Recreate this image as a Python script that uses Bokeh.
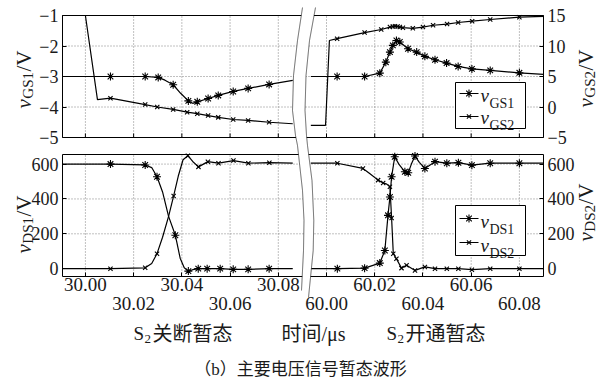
import math
from bokeh.plotting import figure
from bokeh.models import (Range1d, LinearAxis, FixedTicker, CustomJSTickFormatter,
                          Label, PolyAnnotation)
from bokeh.embed import file_html
from bokeh.resources import INLINE

# ------------------------------------------------------------------ data
x_ticks_off = [30.00, 30.02, 30.04, 30.06, 30.08]      # S2 turn-off window (us)
x_ticks_on = [60.00, 60.02, 60.04, 60.06, 60.08]       # S2 turn-on window (us)
gs1_ticks = [-5, -4, -3, -2, -1]
gs2_ticks = [-5, 0, 5, 10, 15]
ds_ticks = [0, 200, 400, 600]

# --- gate voltages, S2 turn-off
t_gs1_off = [29.9905, 30.0104, 30.0248, 30.0302, 30.0330, 30.0364, 30.0395, 30.0427, 30.0445,
             30.0464, 30.0509, 30.0551, 30.0613, 30.0675, 30.0762, 30.0860]
v_gs1_off = [-3.00, -3.00, -3.00, -3.03, -3.12, -3.27, -3.55, -3.80, -3.88,
             -3.83, -3.72, -3.62, -3.49, -3.39, -3.26, -3.13]
m_gs1_off = [0, 1, 1, 1, 0, 1, 0, 1, 0, 1, 1, 1, 1, 1, 1, 0]

t_gs2_off = [29.9905, 30.0000, 30.0050, 30.0104, 30.0248, 30.0298, 30.0364, 30.0422, 30.0464,
             30.0509, 30.0551, 30.0613, 30.0675, 30.0762, 30.0860]
v_gs2_off = [15.0, 15.0, 1.2, 1.45, 0.4, 0.0, -0.4, -0.85, -1.1,
             -1.4, -1.7, -2.05, -2.2, -2.5, -2.75]
m_gs2_off = [0, 0, 0, 1, 1, 1, 1, 1, 1, 1, 1, 1, 1, 1, 0]

# --- gate voltages, S2 turn-on
t_gs1_on = [59.9935, 60.0044, 60.0158, 60.0221, 60.0246, 60.0263, 60.0275, 60.0290, 60.0304,
            60.0338, 60.0374, 60.0408, 60.0450, 60.0498, 60.0546, 60.0603, 60.0679, 60.0800, 60.0900]
v_gs1_on = [-3.00, -3.00, -3.00, -2.89, -2.53, -2.20, -1.98, -1.82, -1.87,
            -2.09, -2.20, -2.34, -2.45, -2.56, -2.67, -2.75, -2.80, -2.88, -2.93]
m_gs1_on = [0, 1, 1, 1, 1, 1, 1, 1, 1, 1, 1, 1, 1, 1, 1, 1, 1, 1, 0]

t_gs2_on = [59.9935, 59.9996, 60.0012, 60.0044, 60.0158, 60.0227, 60.0263, 60.0275, 60.0284,
            60.0295, 60.0304, 60.0317, 60.0358, 60.0400, 60.0442, 60.0500, 60.0546, 60.0604,
            60.0679, 60.0800, 60.0900]
v_gs2_on = [-3.0, -3.0, 10.9, 11.2, 12.2, 12.7, 13.1, 13.2, 13.25,
            13.2, 13.1, 13.0, 12.9, 13.1, 13.4, 13.6, 13.85, 14.07,
            14.34, 14.73, 14.85]
m_gs2_on = [0, 0, 0, 1, 1, 1, 1, 1, 1, 1, 1, 1, 1, 1, 1, 1, 1, 1, 1, 1, 0]

# --- drain-source voltages, S2 turn-off
t_ds1_off = [29.9905, 30.0104, 30.0248, 30.0275, 30.0297, 30.0320, 30.0345, 30.0373, 30.0393,
             30.0410, 30.0427, 30.0445, 30.0468, 30.0505, 30.0559, 30.0613, 30.0675, 30.0762, 30.0860]
v_ds1_off = [600, 600, 595, 580, 527, 440, 300, 192, 60,
             5, -14, -6, 0, 0, 0, -4, -4, 0, 0]
m_ds1_off = [0, 1, 1, 0, 1, 0, 0, 1, 0, 0, 1, 0, 1, 1, 1, 1, 1, 1, 0]

t_ds2_off = [29.9905, 30.0104, 30.0248, 30.0275, 30.0297, 30.0320, 30.0345, 30.0366, 30.0385,
             30.0405, 30.0425, 30.0445, 30.0469, 30.0508, 30.0552, 30.0614, 30.0676, 30.0763, 30.0860]
v_ds2_off = [0, 0, 5, 30, 86, 180, 300, 417, 530,
             625, 648, 615, 584, 614, 605, 620, 605, 608, 605]
m_ds2_off = [0, 1, 1, 0, 1, 0, 0, 1, 0, 0, 1, 0, 1, 1, 1, 1, 1, 1, 0]

# --- drain-source voltages, S2 turn-on
t_ds1_on = [59.9935, 60.0045, 60.0158, 60.0221, 60.0242, 60.0255, 60.0263, 60.0270, 60.0283,
            60.0300, 60.0325, 60.0339, 60.0352, 60.0367, 60.0385, 60.0408, 60.0450, 60.0499,
            60.0547, 60.0603, 60.0679, 60.0800, 60.0900]
v_ds1_on = [0, 0, 3, 32, 104, 306, 411, 527, 642,
            600, 556, 550, 600, 646, 610, 575, 614, 605,
            608, 594, 605, 605, 605]
m_ds1_on = [0, 1, 1, 1, 1, 1, 1, 1, 1, 0, 1, 1, 0, 1, 0, 1, 1, 1, 1, 1, 1, 1, 0]

t_ds2_on = [59.9935, 60.0045, 60.0151, 60.0179, 60.0214, 60.0235, 60.0250, 60.0263, 60.0270,
            60.0277, 60.0290, 60.0311, 60.0332, 60.0367, 60.0408, 60.0450, 60.0499, 60.0547,
            60.0603, 60.0679, 60.0800, 60.0900]
v_ds2_on = [605, 605, 575, 546, 508, 492, 485, 470, 290,
            86, 57, 3, 19, -10, 10, 0, 0, 0,
            -6, 0, 0, 0]
m_ds2_on = [0, 1, 1, 0, 1, 1, 0, 1, 1, 1, 1, 1, 1, 1, 1, 1, 1, 1, 1, 1, 1, 0]

# ------------------------------------------------------------------ layout constants (page px)
W, H = 600, 392
STEP = x_ticks_off[1] - x_ticks_off[0]
OFFSET = x_ticks_on[0] - (x_ticks_off[-1] + STEP)   # puts 60.00 one step after 30.08
X0, XSPAN = 29.9905, 0.1995                         # time shown across the panel width
FR_L, FR_R = 62, 543
TOP_T, TOP_B = 15, 137
BOT_T, BOT_B = 154, 276
TOP_Y = (-5, -1)
TOP_Y2 = (-5, 15)
BOT_Y = (-45, 655)
TICK = 4

SERIF = "Liberation Serif"
MIXED = "Liberation Serif, Noto Sans CJK SC"
INK = "#1a1a1a"

kx = XSPAN / (FR_R - FR_L)


def span_range(lo, hi, p_top, p_bot):
    """range whose values lo..hi map to page rows p_bot..p_top across the whole canvas"""
    k = (hi - lo) / (p_bot - p_top)
    return Range1d(lo - (H - p_bot) * k, hi + p_top * k)


p = figure(width=W, height=H, x_range=Range1d(0, W), y_range=Range1d(H, 0),
           x_axis_type=None, y_axis_type=None, toolbar_location=None, output_backend="svg",
           min_border=0, min_border_left=0, min_border_right=0, min_border_top=0,
           min_border_bottom=0)
p.outline_line_color = None
p.background_fill_color = "white"
p.border_fill_color = "white"
p.extra_x_ranges = {
    "L": Range1d(X0 - FR_L * kx, X0 + (W - FR_L) * kx),
    "R": Range1d(X0 + OFFSET - FR_L * kx, X0 + OFFSET + (W - FR_L) * kx),
}
p.extra_y_ranges = {
    "gs1": span_range(*TOP_Y, TOP_T, TOP_B),
    "gs2": span_range(*TOP_Y2, TOP_T, TOP_B),
    "ds": span_range(*BOT_Y, BOT_T, BOT_B),
}

all_ticks = x_ticks_off + [t - OFFSET for t in x_ticks_on]
row1_ticks = all_ticks[0::2]
row2_ticks = all_ticks[1::2]
split = x_ticks_off[-1] + STEP / 2
xfmt = CustomJSTickFormatter(args=dict(split=split, off=OFFSET), code="""
const v = tick > split ? tick + off : tick;
return v.toFixed(2);
""")
yfmt = CustomJSTickFormatter(code="""
return tick < 0 ? "\\u2212" + Math.abs(tick) : String(tick);
""")

# ------------------------------------------------------------------ grid lines
GRID = dict(line_color="#808080", line_dash="1 2", line_width=1)
for yname, (lo, hi) in (("gs1", TOP_Y), ("ds", BOT_Y)):
    p.segment(x0=all_ticks, y0=[lo] * len(all_ticks), x1=all_ticks, y1=[hi] * len(all_ticks),
              x_range_name="L", y_range_name=yname, **GRID)
hy = gs1_ticks[1:-1]
p.segment(x0=[X0] * len(hy), y0=hy, x1=[X0 + XSPAN] * len(hy), y1=hy,
          x_range_name="L", y_range_name="gs1", **GRID)
hy = ds_ticks[1:]
p.segment(x0=[X0] * len(hy), y0=hy, x1=[X0 + XSPAN] * len(hy), y1=hy,
          x_range_name="L", y_range_name="ds", **GRID)

# inward tick marks along the lower edge of the upper panel
tl = TICK * (TOP_Y[1] - TOP_Y[0]) / (TOP_B - TOP_T)
p.segment(x0=all_ticks, y0=[TOP_Y[0]] * len(all_ticks), x1=all_ticks,
          y1=[TOP_Y[0] + tl] * len(all_ticks), x_range_name="L", y_range_name="gs1",
          line_color="black", line_width=1)


# ------------------------------------------------------------------ axes
def axis(place, loc, ticks, fmt=None, xr="default", yr="default", bounds=None,
         size="18px", standoff=4, line=True, tick_in=TICK):
    kw = dict(ticker=FixedTicker(ticks=ticks), fixed_location=loc, x_range_name=xr, y_range_name=yr)
    if fmt is not None:
        kw["formatter"] = fmt
    if bounds is not None:
        kw["bounds"] = bounds
    ax = LinearAxis(**kw)
    ax.axis_line_color = "black" if line else None
    ax.axis_line_width = 1
    ax.major_tick_line_color = "black" if tick_in else None
    ax.major_tick_in = tick_in
    ax.major_tick_out = 0
    ax.minor_tick_line_color = None
    ax.major_label_text_font = SERIF
    ax.major_label_text_color = INK
    ax.major_label_text_font_size = size
    ax.major_label_standoff = standoff
    p.add_layout(ax, place)
    return ax


xb = (X0, X0 + XSPAN)
# upper panel
axis("left", FR_L, gs1_ticks, yfmt, yr="gs1", bounds=TOP_Y)
axis("right", FR_R, gs2_ticks, yfmt, yr="gs2", bounds=TOP_Y2)
axis("above", TOP_T, [], xr="L", bounds=xb, tick_in=0)
axis("below", TOP_B, [], xr="L", bounds=xb, tick_in=0)
# lower panel
axis("left", FR_L, ds_ticks, yfmt, yr="ds", bounds=BOT_Y)
axis("right", FR_R, ds_ticks, yfmt, yr="ds", bounds=BOT_Y)
axis("above", BOT_T, [], xr="L", bounds=xb, tick_in=0)
axis("below", BOT_B, row1_ticks, xfmt, xr="L", bounds=xb, size="19px", standoff=1)
axis("below", BOT_B, row2_ticks, xfmt, xr="L", bounds=xb, size="19px", standoff=20, line=False)


# ------------------------------------------------------------------ series
def series(t, v, m, marker, size, xr, yr):
    p.line(t, v, line_color="black", line_width=1.2, x_range_name=xr, y_range_name=yr)
    tm = [a for a, k in zip(t, m) if k]
    vm = [b for b, k in zip(v, m) if k]
    p.scatter(tm, vm, marker=marker, size=size, line_color="black", line_width=1.1,
              fill_color=None, x_range_name=xr, y_range_name=yr)


series(t_gs1_off, v_gs1_off, m_gs1_off, "asterisk", 8, "L", "gs1")
series(t_gs2_off, v_gs2_off, m_gs2_off, "x", 6, "L", "gs2")
series(t_gs1_on, v_gs1_on, m_gs1_on, "asterisk", 8, "R", "gs1")
series(t_gs2_on, v_gs2_on, m_gs2_on, "x", 6, "R", "gs2")
series(t_ds1_off, v_ds1_off, m_ds1_off, "asterisk", 8, "L", "ds")
series(t_ds2_off, v_ds2_off, m_ds2_off, "x", 6, "L", "ds")
series(t_ds1_on, v_ds1_on, m_ds1_on, "asterisk", 8, "R", "ds")
series(t_ds2_on, v_ds2_on, m_ds2_on, "x", 6, "R", "ds")


# ------------------------------------------------------------------ texts (page px)
def label(x, y, text, size, font=SERIF, style="normal", angle=0.0, align="left",
          baseline="alphabetic"):
    p.add_layout(Label(x=x, y=y, text=text, text_font=font, text_font_size=size,
                       text_font_style=style, text_color=INK, angle=angle,
                       text_align=align, text_baseline=baseline))


ADV = {"G": 0.722, "S": 0.556, "D": 0.722, "1": 0.5, "2": 0.5}


def sub_label(px, py, sub, tail=None, vertical=False, big=21, small=15):
    """italic v + subscript (+ '/V'), anchored at the baseline start in page px"""
    wv = 0.444 * big
    ws = sum(ADV[c] for c in sub) * small
    if vertical:
        a = math.pi / 2
        label(px, py, "v", f"{big}px", style="italic", angle=a)
        label(px + 4, py - wv - 0.5, sub, f"{small}px", angle=a)
        if tail:
            label(px, py - wv - ws - 1, tail, f"{big}px", angle=a)
    else:
        label(px, py, "v", f"{big}px", style="italic")
        label(px + wv + 0.5, py + 8, sub, f"{small}px")


def legend(box, rows):
    l, t, r, b = box
    p.quad(left=l, right=r, top=t, bottom=b, fill_color="white", line_color="black", line_width=1)
    for (ly, vy, marker, msize, sub) in rows:
        p.line([l + 4, l + 23], [ly, ly], line_color="black", line_width=1.2)
        p.scatter([l + 13.5], [ly], marker=marker, size=msize, line_color="black", line_width=1.1)
        sub_label(l + 25, vy, sub, big=19, small=14)


legend((455, 82, 525, 128), [(93, 95, "asterisk", 8, "GS1"), (116, 117, "x", 6, "GS2")])
legend((455, 205, 525, 255), [(218, 221, "asterisk", 8, "DS1"), (242, 245, "x", 6, "DS2")])

sub_label(23, 108, "GS1", "/V", vertical=True)
sub_label(585, 107, "GS2", "/V", vertical=True)
sub_label(23, 253, "DS1", "/V", vertical=True)
sub_label(585, 241, "DS2", "/V", vertical=True)

# axis break
left_c = [(302, 7), (297, 40), (293, 75), (292, 110), (295, 135), (297, 145),
          (302, 190), (303.5, 220), (303, 250), (301, 290)]
right_c = [(315, 7), (309, 40), (305.5, 75), (304.5, 110), (306, 135), (307, 145),
           (311.5, 180), (313.3, 220), (312.7, 250), (308, 297)]
poly = left_c + right_c[::-1]
p.add_layout(PolyAnnotation(xs=[a for a, _ in poly], ys=[b for _, b in poly],
                            fill_color="white", fill_alpha=1.0, line_alpha=0.0))
for c in (left_c, right_c):
    path = c + c[::-1]
    p.add_layout(PolyAnnotation(xs=[a for a, _ in path], ys=[b for _, b in path],
                                fill_alpha=0.0, line_color="black", line_width=1.0))

# bottom texts
CJK_ROW = 333
label(133, CJK_ROW, "S", "19px")
label(144, CJK_ROW + 5, "2", "13px")
label(152, CJK_ROW, "关断暂态", "20px", font=MIXED)
label(281, CJK_ROW, "时间/μs", "20px", font=MIXED)
label(386, CJK_ROW, "S", "19px")
label(397, CJK_ROW + 5, "2", "13px")
label(405, CJK_ROW, "开通暂态", "20px", font=MIXED)
label(300, 369, "（b）主要电压信号暂态波形", "17px", font=MIXED, align="center")

open("out.html", "w").write(file_html(p, INLINE))
